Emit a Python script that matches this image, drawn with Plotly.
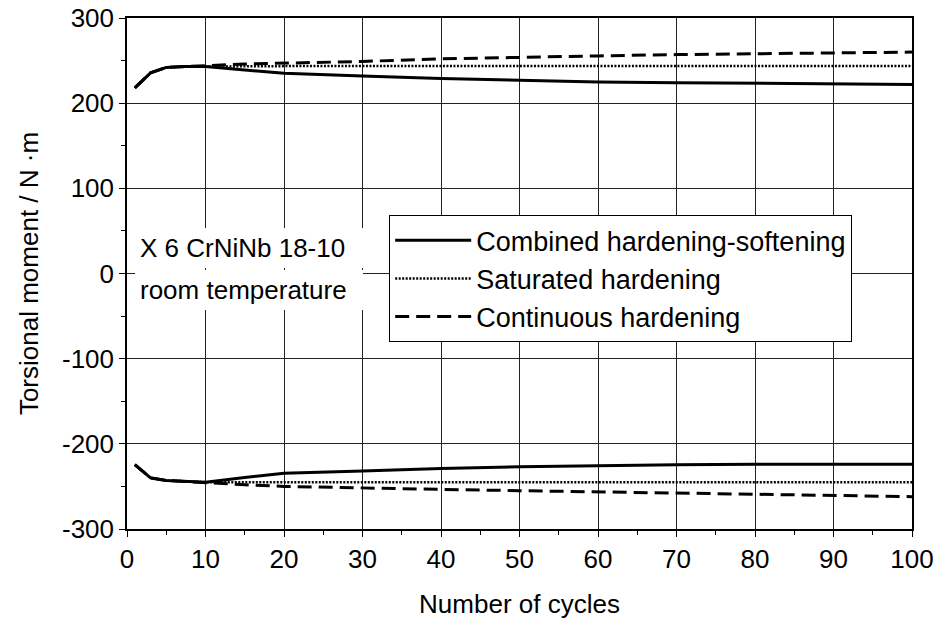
import plotly.graph_objects as go

# Cycle numbers at which the torsional moment was read
cycles = [1, 3, 5, 7, 10, 15, 20, 30, 40, 50, 60, 70, 80, 90, 100]

# Upper (positive) peak moments, N·m
combined_upper = [218, 235.5, 242, 243, 243, 239, 235, 232, 229, 227, 225, 224, 223.5, 223, 222]
saturated_upper = [218, 235.5, 242, 243, 243, 243.5, 243.5, 243.5, 243.5, 243.5, 243.5, 243.5, 243.5, 243.5, 243.5]
continuous_upper = [218, 235.5, 242, 243, 244, 246, 247, 249, 252, 254, 255.5, 257, 258, 259, 260]

# Lower (negative) peak moments, N·m
combined_lower = [-224.5, -240, -243, -244, -245, -239.5, -234.5, -232, -229, -227, -225.5, -224.5, -224, -224, -224]
saturated_lower = [-224.5, -240, -243, -244, -245, -245, -245, -245, -245, -245, -245, -245, -245, -245, -245]
continuous_lower = [-224.5, -240, -243, -244, -246, -248, -250, -252, -253.5, -255, -256.5, -258, -259, -260.5, -262]

x_ticks = list(range(0, 101, 10))
y_ticks = list(range(-300, 301, 100))
y_tick_text = ["-300", "-200", "-100", "0", "100", "200", "300"]

FONT = "Liberation Sans, Arial, sans-serif"
FS = 26

series = [
    ("Combined hardening-softening", combined_upper, combined_lower, dict(width=3, dash="solid")),
    ("Saturated hardening", saturated_upper, saturated_lower, dict(width=2.5, dash="2px,1.5px")),
    ("Continuous hardening", continuous_upper, continuous_lower, dict(width=3, dash="14px,7px")),
]

fig = go.Figure()
for name, up, lo, style in series:
    for i, ys in enumerate((up, lo)):
        fig.add_trace(go.Scatter(
            x=cycles, y=ys, mode="lines", name=name,
            legendgroup=name, showlegend=(i == 0),
            line=dict(color="black", **style),
        ))

axis_common = dict(
    showline=True, linecolor="black", linewidth=1.5, mirror=True,
    showgrid=True, gridcolor="#222", gridwidth=1,
    ticks="outside", ticklen=6, tickwidth=1, tickcolor="black",
    zeroline=False, automargin=False,
    tickfont=dict(family=FONT, size=FS, color="black"),
)

fig.update_xaxes(
    range=[0, 100], tickvals=x_ticks,
    minor=dict(dtick=5, ticks="outside", ticklen=4, tickcolor="black", showgrid=False),
    title=dict(text="Number of cycles", font=dict(family=FONT, size=FS, color="black"), standoff=23),
    **axis_common,
)
fig.update_yaxes(
    range=[-300, 300], tickvals=y_ticks, ticktext=y_tick_text,
    minor=dict(dtick=50, ticks="outside", ticklen=4, tickcolor="black", showgrid=False),
    title=dict(text="Torsional moment / N ·m", font=dict(family=FONT, size=FS, color="black"), standoff=16),
    **axis_common,
)

# Material / test condition note
for yv, txt in ((30, "X 6 CrNiNb 18-10"), (-19.5, "room temperature")):
    fig.add_annotation(
        x=1, y=yv, xref="x", yref="y", xanchor="left", yanchor="middle",
        text=txt, showarrow=False, align="left", width=218,
        font=dict(family=FONT, size=FS, color="black"),
        bgcolor="white", borderpad=5, borderwidth=0,
    )

fig.update_layout(
    width=936, height=619,
    margin=dict(l=127, r=24, t=18, b=90),
    paper_bgcolor="white", plot_bgcolor="white",
    font=dict(family=FONT, size=FS, color="black"),
    legend=dict(
        x=0.334, y=0.614, xanchor="left", yanchor="top",
        bgcolor="white", bordercolor="black", borderwidth=1,
        font=dict(family=FONT, size=27, color="black"),
        tracegroupgap=0, itemwidth=76,
    ),
    showlegend=True,
)

fig.write_html("out.html")
